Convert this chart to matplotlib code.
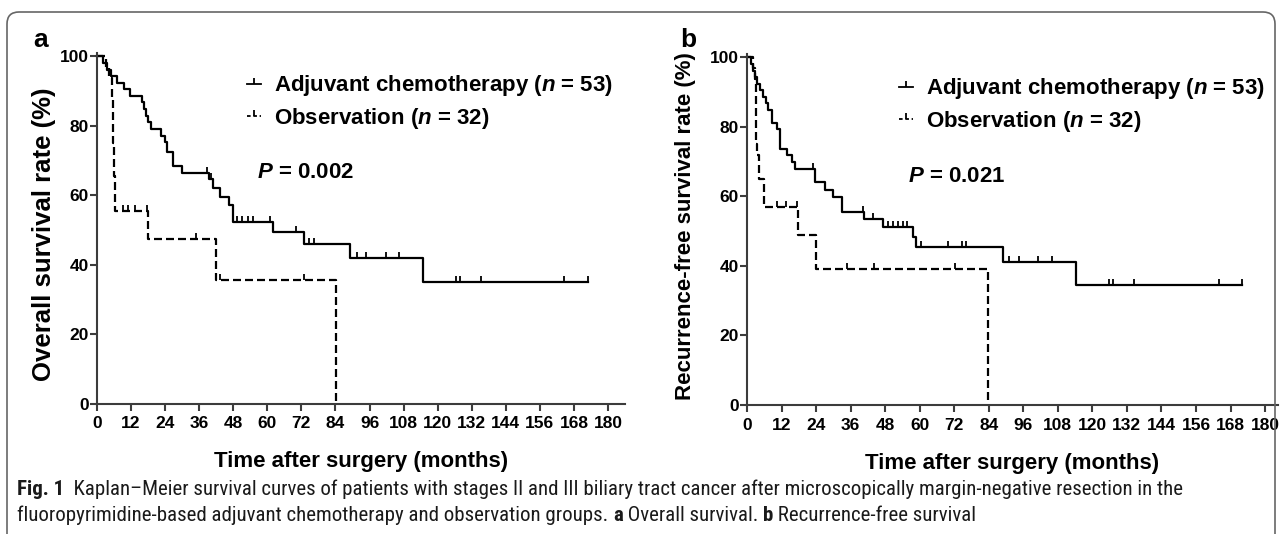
import numpy as np
import matplotlib
matplotlib.use("Agg")
import matplotlib.pyplot as plt
from matplotlib.path import Path
from matplotlib.lines import Line2D
from matplotlib.patches import FancyBboxPatch
from matplotlib import font_manager as fm

# ---------------- data (months, survival %) ----------------
# Panel a: overall survival
a_adj_t = [0, 2.0, 3.5, 5.0, 7.0, 9.5, 11.6, 15.7, 16.5, 17.2, 18.0, 19.0, 22.4, 23.9,
           24.7, 26.8, 29.8, 39.4, 41.0, 43.5, 46.6, 47.8, 62.1, 72.9, 89.3, 114.7]
a_adj_s = [100, 98.1, 96.2, 94.3, 92.5, 90.6, 88.7, 86.8, 84.9, 83.0, 81.1, 79.2, 77.2, 75.3,
           72.6, 68.5, 66.4, 64.6, 62.2, 59.7, 57.3, 52.5, 49.4, 46.0, 41.9, 35.0]
a_adj_end = 172.8
a_adj_cens = [38.6, 40.2, 49.2, 51.2, 53.1, 55.1, 60.9, 70.1, 74.8, 76.4, 91.5, 94.8,
              101.8, 106.5, 126.5, 127.9, 135.2, 164.6, 172.8]

a_obs_t = [0, 3.0, 4.3, 5.2, 5.7, 6.0, 6.2, 18.1, 41.8, 84.1]
a_obs_s = [100, 96.9, 93.8, 87.5, 75.0, 65.6, 55.6, 47.5, 35.7, 0]
a_obs_end = 84.1
a_obs_cens = [9.3, 11.0, 13.4, 17.5, 34.8, 43.5, 72.9]

# Panel b: recurrence-free survival
b_adj_t = [0, 1.5, 2.2, 2.8, 3.5, 4.5, 5.7, 6.5, 7.4, 8.6, 10.3, 11.5, 14.0, 15.5, 16.7,
           23.6, 27.1, 30.0, 32.9, 40.8, 47.4, 57.8, 58.7, 89.1, 114.2]
b_adj_s = [100, 98.1, 96.2, 94.3, 92.5, 90.6, 88.7, 86.8, 84.9, 81.1, 79.3, 73.8, 71.8, 69.9, 68.0,
           64.2, 62.0, 59.9, 55.5, 53.4, 51.2, 48.4, 45.5, 41.2, 34.5]
b_adj_end = 172.1
b_adj_cens = [23.0, 40.2, 43.9, 49.1, 50.8, 52.6, 54.1, 55.5, 60.3, 70.0, 74.6, 76.1, 91.2,
              94.5, 101.2, 106.1, 125.8, 127.3, 134.5, 164.0, 172.1]

b_obs_t = [0, 2.0, 2.8, 3.0, 3.1, 3.2, 3.4, 4.3, 5.8, 17.8, 24.0, 83.6]
b_obs_s = [100, 96.9, 93.8, 87.5, 81.3, 75.0, 71.9, 65.1, 57.1, 48.9, 39.1, 0]
b_obs_end = 83.6
b_obs_cens = [10.3, 13.6, 17.3, 34.6, 44.1, 72.3]

x_ticks = list(range(0, 181, 12))
y_ticks = [0, 20, 40, 60, 80, 100]
legend_labels = ["Adjuvant chemotherapy ($n$ = 53)", "Observation ($n$ = 32)"]
p_values = ["$P$ = 0.002", "$P$ = 0.021"]
y_labels = ["Overall survival rate (%)", "Recurrence-free survival rate (%)"]
x_label = "Time after surgery (months)"
panel_letters = ["a", "b"]

# ---------------- style ----------------
plt.rcParams["font.family"] = ["Liberation Sans", "DejaVu Sans"]
plt.rcParams["font.weight"] = "bold"
plt.rcParams["mathtext.fontset"] = "custom"
plt.rcParams["mathtext.rm"] = "Liberation Sans:bold"
plt.rcParams["mathtext.it"] = "Liberation Sans:italic:bold"
plt.rcParams["mathtext.bf"] = "Liberation Sans:bold"

W, H = 1282, 534
fig = plt.figure(figsize=(W / 100, H / 100), dpi=100)


def fx(px):
    return px / W


def fy(py):
    return 1 - py / H


SPINE = "#3c3c3c"
tick_path = Path([(0, 0), (0, 1)])
DASH = (0, (3.6, 1.8))


def km(ax, t, s, end, cens, ls):
    t = np.asarray(t, float)
    s = np.asarray(s, float)
    x = np.r_[t, end]
    y = np.r_[s, s[-1]]
    ax.plot(x, y, drawstyle="steps-post", color="k", lw=1.6, ls=ls, clip_on=False)
    idx = np.searchsorted(t, cens, side="right") - 1
    ax.plot(cens, s[idx], ls="none", marker=tick_path, ms=9, mew=1.3, color="k", clip_on=False)


def setup(ax, xmax):
    ax.set_xlim(0, xmax)
    ax.set_ylim(0, 101)
    ax.set_xticks(x_ticks)
    ax.set_yticks(y_ticks)
    for sp in ["top", "right"]:
        ax.spines[sp].set_visible(False)
    for sp in ["left", "bottom"]:
        ax.spines[sp].set_color(SPINE)
        ax.spines[sp].set_linewidth(1.5)
    ax.tick_params(axis="both", direction="out", length=5, width=1.5, color=SPINE,
                   labelsize=12.5)
    ax.tick_params(axis="x", pad=4)
    ax.tick_params(axis="y", pad=1)
    ax.patch.set_alpha(0)


axes_specs = [
    # left px, right px, bottom px(0 line), top px, xmax
    (97, 625, 404, 53, 186),
    (747, 1278, 405, 54, 184.5),
]
datasets = [
    ((a_adj_t, a_adj_s, a_adj_end, a_adj_cens), (a_obs_t, a_obs_s, a_obs_end, a_obs_cens)),
    ((b_adj_t, b_adj_s, b_adj_end, b_adj_cens), (b_obs_t, b_obs_s, b_obs_end, b_obs_cens)),
]
legend_pos = [(247, 102), (899, 105)]
p_pos = [(257, 172), (908, 177)]
ylab_pos = [(44, 234), (686, 226)]
ylab_size = [18.5, 16]
xlab_pos = [(361, 462), (1012, 464)]
letter_pos = [(33, 40), (680, 40)]

for i, (l, r, b, t, xmax) in enumerate(axes_specs):
    ax = fig.add_axes([fx(l), fy(b), (r - l) / W, (b - t) / H])
    setup(ax, xmax)
    adj, obs = datasets[i]
    km(ax, *obs, DASH)
    km(ax, *adj, "-")
    h1 = Line2D([0], [0], color="k", lw=1.3, marker=tick_path, ms=9, mew=1.3)
    h2 = Line2D([0], [0], color="k", lw=1.3, ls=(0, (2, 1.5)), marker=tick_path, ms=9, mew=1.3)
    lx, ly = legend_pos[i]
    ax.legend([h1, h2], legend_labels, loc="center left", bbox_to_anchor=(fx(lx), fy(ly)),
              bbox_transform=fig.transFigure, frameon=False, handlelength=0.65,
              handletextpad=0.55, labelspacing=0.32, borderpad=0, borderaxespad=0,
              prop={"family": "Liberation Sans", "weight": "bold", "size": 16})
    px, py = p_pos[i]
    fig.text(fx(px), fy(py), p_values[i], fontsize=16, weight="bold", ha="left", va="center")
    yx, yy = ylab_pos[i]
    fig.text(fx(yx), fy(yy), y_labels[i], fontsize=ylab_size[i], weight="bold", rotation=90,
             ha="center", va="center")
    xx, xy = xlab_pos[i]
    fig.text(fx(xx), fy(xy), x_label, fontsize=16, weight="bold", ha="center", va="center")
    lx2, ly2 = letter_pos[i]
    fig.text(fx(lx2), fy(ly2), panel_letters[i], fontsize=19, weight="bold", ha="left",
             va="center")

# frame around the figure
frame = FancyBboxPatch((7, -30), 1268, H - 12 + 30, boxstyle="round,pad=0,rounding_size=12",
                       transform=None, fill=False, ec="#666666", lw=1.2)
fig.patches.append(frame)

# ---------------- caption ----------------
names = {f.name for f in fm.fontManager.ttflist}
cap_fam = "Liberation Sans"
for cand in ["Liberation Sans Narrow", "Roboto Condensed", "Open Sans Condensed"]:
    if cand in names:
        cap_fam = cand
        break

cap_line1 = [("Fig. 1", "bold"),
             ("  Kaplan\u2013Meier survival curves of patients with stages II and III biliary tract "
              "cancer after microscopically margin-negative resection in the", "normal")]
cap_line2 = [("fluoropyrimidine-based adjuvant chemotherapy and observation groups. ", "normal"),
             ("a", "bold"), (" Overall survival. ", "normal"), ("b", "bold"),
             (" Recurrence-free survival", "normal")]

renderer = fig.canvas.get_renderer()


def place(runs, x0, ybase, fs):
    x = x0
    objs = []
    for txt, wt in runs:
        o = fig.text(fx(x), fy(ybase), txt, fontsize=fs, weight=wt, family=cap_fam,
                     ha="left", va="baseline", color="#1a1a1a")
        bb = o.get_window_extent(renderer)
        x = bb.x1
        objs.append(o)
    return objs, x - x0


objs, w = place(cap_line1, 17, 495, 12)
for o in objs:
    o.remove()
fs = 12 * 1165 / w
place(cap_line1, 17, 495, fs)
place(cap_line2, 17, 521, fs)

fig.savefig("out.png", dpi=100)
